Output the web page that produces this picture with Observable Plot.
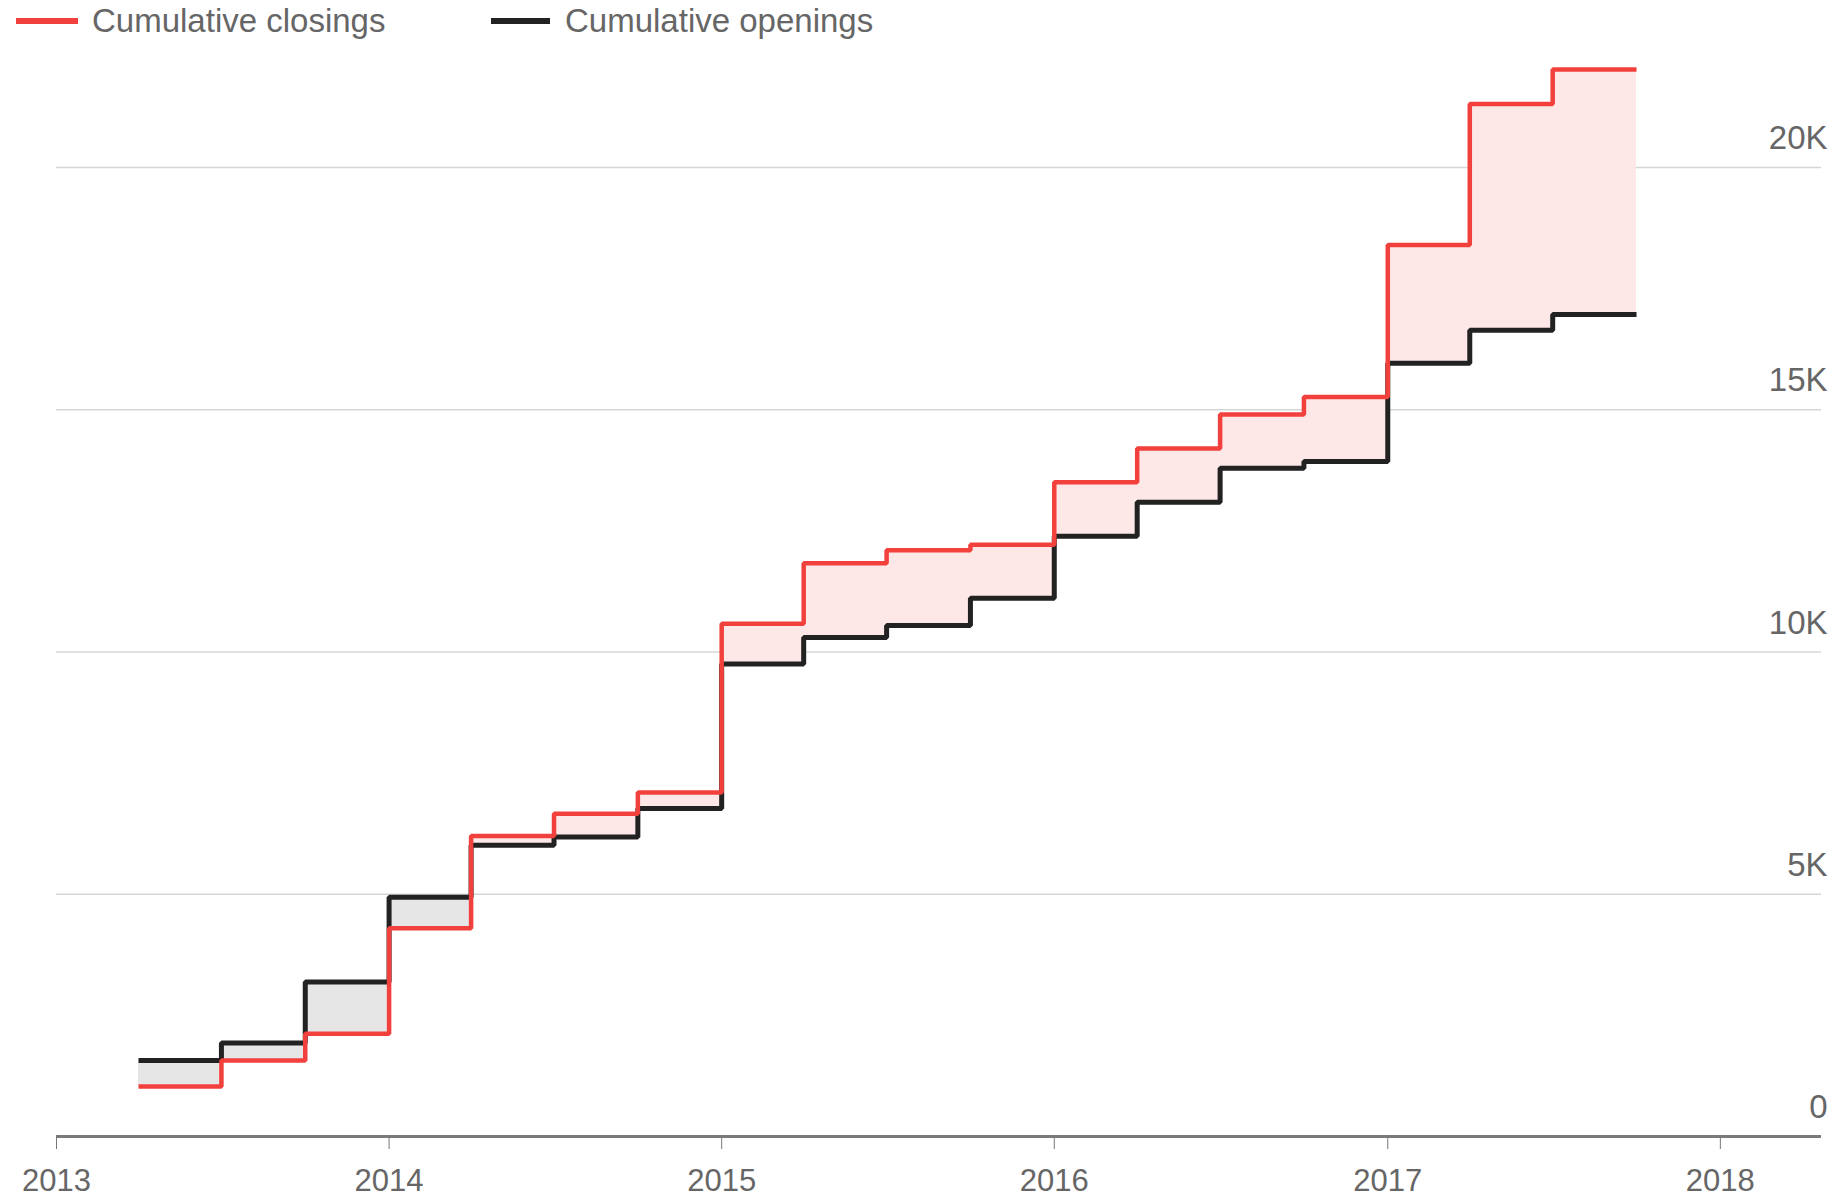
<!DOCTYPE html>
<html>
<head>
<meta charset="utf-8">
<script src="https://cdn.jsdelivr.net/npm/d3@7"></script>
<script src="https://cdn.jsdelivr.net/npm/@observablehq/plot@0.6"></script>
<style>
  html, body { margin: 0; padding: 0; background: #fff; }
  body { width: 1842px; height: 1201px; overflow: hidden; font-family: "Liberation Sans", Arial, sans-serif; }
  #legend { position: relative; height: 44px; }
  .sw { position: absolute; top: 18px; height: 6px; }
  .lt { position: absolute; top: 5px; font-size: 33px; line-height: 32px; color: #666; white-space: nowrap; }
  #chart svg { display: block; }
</style>
</head>
<body>
<div id="legend">
  <span class="sw" style="left:16px;width:62px;background:#f2403c"></span>
  <span class="lt" style="left:92px">Cumulative closings</span>
  <span class="sw" style="left:491px;width:59px;background:#222"></span>
  <span class="lt" style="left:565px">Cumulative openings</span>
</div>
<div id="chart"></div>
<script>
// Quarter start dates (last entry closes the final step)
const quarters = ["2013-04-01","2013-07-01","2013-10-01","2014-01-01","2014-04-01","2014-07-01","2014-10-01",
  "2015-01-01","2015-04-01","2015-07-01","2015-10-01","2016-01-01","2016-04-01","2016-07-01","2016-10-01",
  "2017-01-01","2017-04-01","2017-07-01","2017-10-01"];
const closings = [1030, 1570, 2120, 4300, 6200, 6660, 7100, 10580, 11830, 12100, 12210, 13500, 14200, 14900, 15260, 18400, 21310, 22020, 22020];
const openings = [1570, 1930, 3190, 4940, 6010, 6180, 6770, 9750, 10300, 10545, 11110, 12390, 13090, 13790, 13930, 15960, 16640, 16965, 16965];
const yearTicks = ["2013","2014","2015","2016","2017","2018"];
const yTicks = [0, 5000, 10000, 15000, 20000];

const data = quarters.map((q, i) => ({date: new Date(q), close: closings[i], open: openings[i]}));
const xTicks = yearTicks.map(y => new Date(y + "-01-01"));

const RED = "#f2403c", BLACK = "#222";

const chart = Plot.plot({
  width: 1842,
  height: 1157,
  marginLeft: 56,
  marginRight: 21,
  marginTop: 26,
  marginBottom: 65,
  style: {fontFamily: '"Liberation Sans", Arial, sans-serif', fontSize: "31px", color: "#666", background: "#fff"},
  x: {type: "utc", domain: [new Date("2013-01-01"), new Date("2018-04-22")]},
  y: {domain: [0, 22000]},
  marks: [
    Plot.gridY(yTicks.slice(1), {stroke: "#d6d6d6", strokeOpacity: 1, strokeWidth: 1.5}),
    Plot.areaY(data, {x: "date", y1: "open", y2: d => Math.max(d.close, d.open), curve: "step-after", fill: "#fde7e7"}),
    Plot.areaY(data, {x: "date", y1: "close", y2: d => Math.max(d.close, d.open), curve: "step-after", fill: "#e6e6e6"}),
    Plot.ruleY([0], {stroke: "#7a7a7a", strokeWidth: 3}),
    Plot.axisX({ticks: xTicks, tickFormat: d3.utcFormat("%Y"), tickSize: 13, tickPadding: 19, stroke: "#777", fill: "#666", fontSize: 31, label: null}),
    Plot.axisY({ticks: yTicks, anchor: "right", tickSize: 0, tickPadding: 0, textAnchor: "end", dx: 6, dy: -29,
      tickFormat: d => d === 0 ? "0" : (d / 1000) + "K", fill: "#666", fontSize: 33, label: null}),
    Plot.line(data, {x: "date", y: "open", curve: "step-after", stroke: BLACK, strokeWidth: 5, strokeLinejoin: "miter", strokeLinecap: "butt"}),
    Plot.line(data, {x: "date", y: "close", curve: "step-after", stroke: RED, strokeWidth: 4.5, strokeLinejoin: "miter", strokeLinecap: "butt"})
  ]
});
document.getElementById("chart").appendChild(chart);
</script>
</body>
</html>
